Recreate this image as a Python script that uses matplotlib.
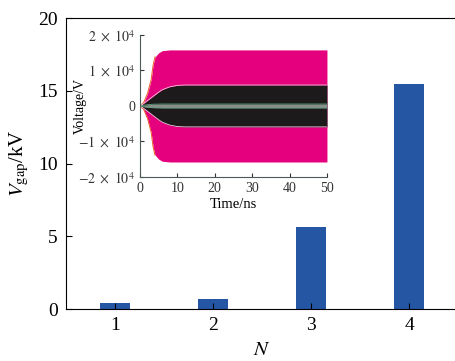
import matplotlib
matplotlib.use('Agg')
import matplotlib.pyplot as plt

plt.rcParams['font.family'] = ['Liberation Serif', 'DejaVu Serif']
plt.rcParams['mathtext.fontset'] = 'stix'

# gap voltage vs number of stages
N = [1, 2, 3, 4]
v_gap = [0.4, 0.7, 5.63, 15.45]

# inset: voltage envelopes (V) vs time (ns)
t_env = [0, 1, 2, 3, 3.5, 4, 5, 6, 8, 10, 12, 50]
outer = [0, 1.0e3, 3.5e3, 7.5e3, 11.5e3, 13.8e3, 15.0e3, 15.6e3, 15.8e3, 15.8e3, 15.8e3, 15.8e3]
inner = [0, 0.7e3, 1.5e3, 2.3e3, 2.7e3, 3.1e3, 3.9e3, 4.6e3, 5.4e3, 5.8e3, 5.9e3, 5.9e3]
core = [0, 200, 350, 450, 480, 500, 520, 550, 550, 550, 550, 550]
ytick_txt = [r'$-2\ \times\ 10^4$', r'$-1\ \times\ 10^4$', '0',
             r'$1\ \times\ 10^4$', r'$2\ \times\ 10^4$']

fig = plt.figure(figsize=(4.56, 3.61), dpi=100)
ax = fig.add_axes([0.1447, 0.144, 0.86, 0.806])
ax.bar(N, v_gap, width=0.3, color='#2456a4')
ax.set_xlim(0.5, 4.5)
ax.set_ylim(0, 20)
ax.set_xticks(N)
ax.set_yticks([0, 5, 10, 15, 20])
ax.tick_params(direction='in', labelsize=14, length=4, pad=6)
ax.spines['right'].set_visible(False)
ax.set_xlabel('$N$', fontsize=15, labelpad=5)
ax.set_ylabel(r'$V_{\rm gap}$/kV', fontsize=15, labelpad=5)

ins = fig.add_axes([0.307, 0.51, 0.41, 0.393])
neg = lambda a: [-v for v in a]
ins.fill_between(t_env, neg(outer), outer, color='#e5007e', lw=0)
ins.plot(t_env[:6], outer[:6], color='#f05a28', lw=0.7)
ins.plot(t_env[:6], neg(outer[:6]), color='#f05a28', lw=0.7)
ins.fill_between(t_env, neg(inner), inner, color='#1c1a1b', lw=0)
ins.plot(t_env, inner, color='#f3c6dc', lw=0.6)
ins.plot(t_env, neg(inner), color='#f3c6dc', lw=0.6)
ins.fill_between(t_env, neg(core), core, color='#8c8c8c', lw=0)
ins.plot(t_env, core, color='#5aa27a', lw=0.6)
ins.plot(t_env, neg(core), color='#5aa27a', lw=0.6)
ins.set_xlim(0, 50)
ins.set_ylim(-2e4, 2e4)
ins.set_xticks([0, 10, 20, 30, 40, 50])
ins.set_yticks([-2e4, -1e4, 0, 1e4, 2e4])
ins.set_yticklabels(ytick_txt)
ins.tick_params(direction='in', labelsize=10, length=3, colors='#333333')
for s in ['top', 'right']:
    ins.spines[s].set_visible(False)
for s in ['left', 'bottom']:
    ins.spines[s].set_color('#4a5a5a')
ins.patch.set_alpha(0)
ins.set_xlabel('Time/ns', fontsize=10.5, labelpad=2)
ins.set_ylabel('Voltage/V', fontsize=10)
# label sits between the wide tick labels
ins.yaxis.set_label_coords(-0.285, 0.5)

fig.savefig('out.png', dpi=100)
